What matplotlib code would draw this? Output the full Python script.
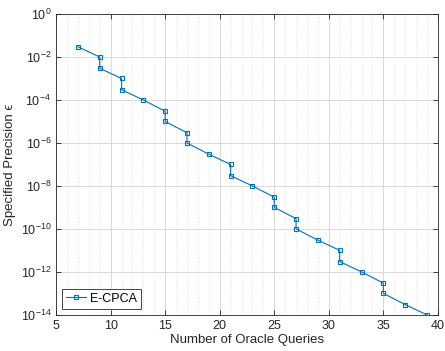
import numpy as np
import matplotlib
matplotlib.use('Agg')
import matplotlib.pyplot as plt
from matplotlib.ticker import FixedLocator, MultipleLocator, NullLocator, LogFormatterMathtext

plt.rcParams['font.family'] = ['Liberation Sans', 'DejaVu Sans']
plt.rcParams['mathtext.fontset'] = 'custom'
plt.rcParams['mathtext.rm'] = 'Liberation Sans'
plt.rcParams['mathtext.it'] = 'Liberation Sans:italic'

# data
queries = [7, 9, 9, 11, 11, 13, 15, 15, 17, 17, 19, 21, 21, 23, 25, 25,
           27, 27, 29, 31, 31, 33, 35, 35, 37, 39]
precision = [3e-2, 1e-2, 3e-3, 1e-3, 3e-4, 1e-4, 3e-5, 1e-5, 3e-6, 1e-6,
             3e-7, 1e-7, 3e-8, 1e-8, 3e-9, 1e-9, 3e-10, 1e-10, 3e-11, 1e-11,
             3e-12, 1e-12, 3e-13, 1e-13, 3e-14, 1e-14]
ytick_vals = [1e0, 1e-2, 1e-4, 1e-6, 1e-8, 1e-10, 1e-12, 1e-14]
xtick_vals = [5, 10, 15, 20, 25, 30, 35, 40]

blue = '#0072BD'
dark = '#262626'

fig = plt.figure(figsize=(4.45, 3.51), dpi=100)
ax = fig.add_axes([0.126, 0.103, 0.858, 0.857])

ax.semilogy(queries, precision, color=blue, lw=0.8, marker='s', ms=3.2,
            mfc='none', mew=0.8, label='E-CPCA')

ax.set_xlim(5, 40)
ax.set_ylim(1e-14, 1e0)
ax.xaxis.set_major_locator(FixedLocator(xtick_vals))
ax.xaxis.set_minor_locator(MultipleLocator(1))
ax.yaxis.set_major_locator(FixedLocator(ytick_vals))
ax.yaxis.set_major_formatter(LogFormatterMathtext())
ax.yaxis.set_minor_locator(NullLocator())

ax.grid(True, which='major', color='#d9d9d9', lw=0.7, ls='-')
ax.grid(True, which='minor', axis='x', color='#dedede', lw=0.6, ls=(0, (1, 2)))
ax.set_axisbelow(True)

ax.tick_params(which='both', direction='in', top=True, right=True,
               colors=dark, labelsize=9, width=0.6)
ax.tick_params(which='major', length=3.5)
ax.tick_params(which='minor', length=0)
for s in ax.spines.values():
    s.set_color(dark)
    s.set_linewidth(0.6)

ax.set_xlabel('Number of Oracle Queries', fontsize=9.5, color=dark, labelpad=2)
ax.set_ylabel('Specified Precision \u03f5', fontsize=9.5, color=dark, labelpad=3)

leg = ax.legend(loc='lower left', fontsize=9, fancybox=False, framealpha=1,
                edgecolor=dark, borderpad=0.3, handlelength=1.6,
                handletextpad=0.3, borderaxespad=0.5)
leg.get_frame().set_linewidth(0.6)

fig.savefig('out.png', dpi=100)
